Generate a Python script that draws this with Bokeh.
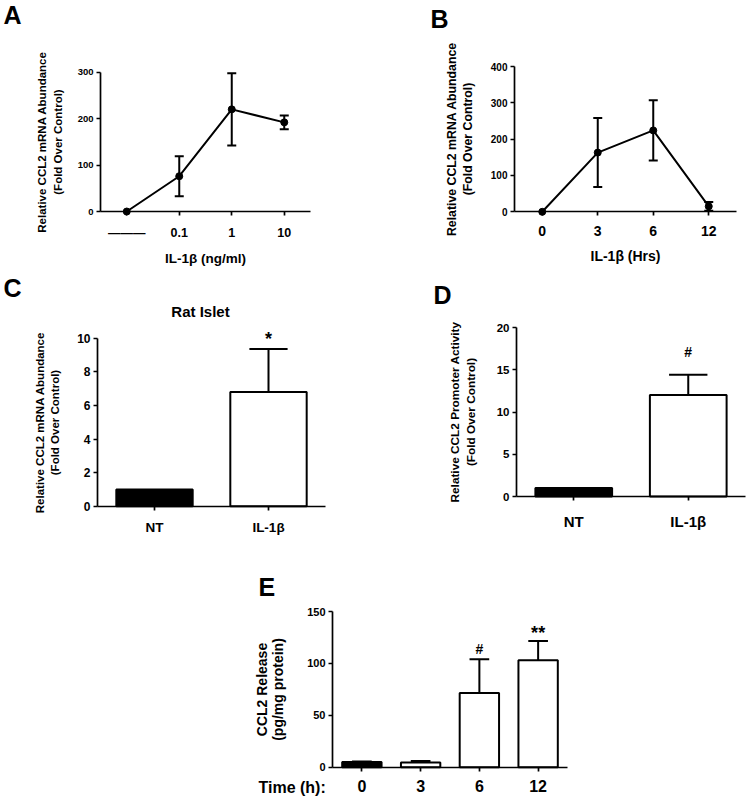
from bokeh.plotting import figure
from bokeh.layouts import column, row, Spacer
from bokeh.models import Range1d, FixedTicker, Label, Whisker, TeeHead, ColumnDataSource
from bokeh.embed import file_html
from bokeh.resources import INLINE

FONT = "Liberation Sans"

# ---------------- data ----------------
# Panel A: dose response
a_labels = ["———", "0.1", "1", "10"]
a_mean = [0, 76, 220, 192]
a_err = [0, 43, 78, 15]

# Panel B: time course
b_labels = ["0", "3", "6", "12"]
b_mean = [0, 163, 224, 15]
b_err = [0, 95, 83, 12]

# Panel C: rat islet
c_labels = ["NT", "IL-1β"]
c_mean = [1.0, 6.8]
c_err = [0.0, 2.55]
c_sig = ["", "*"]

# Panel D: promoter activity
d_labels = ["NT", "IL-1β"]
d_mean = [1.0, 12.0]
d_err = [0.0, 2.4]
d_sig = ["", "#"]

# Panel E: CCL2 release
e_labels = ["0", "3", "6", "12"]
e_mean = [5.0, 4.5, 71.5, 103.0]
e_err = [0.5, 1.5, 32.5, 18.5]
e_sig = ["", "", "#", "**"]


def base_fig(w, h, box, n, y_end, yticks, xlabels, xtick_size, ytick_size,
             ylab, ylab_size, ylab_lh, ylab_standoff,
             xlab=None, xlab_size="13px", xlab_standoff=8, x_standoff=10):
    L, R, T, B = box  # axis box inside the canvas, in pixels
    pxx = (w - L - R) / n
    pxy = (h - T - B) / y_end
    x0 = -0.5 - L / pxx
    x1 = n - 0.5 + R / pxx
    y0 = -B / pxy
    y1 = y_end + T / pxy
    p = figure(width=w, height=h, output_backend="svg", toolbar_location=None,
               x_range=Range1d(x0, x1), y_range=Range1d(y0, y1), min_border=0)
    p.outline_line_color = None
    p.grid.visible = False
    p.background_fill_color = "white"
    p.border_fill_color = "white"
    for ax in (p.xaxis[0], p.yaxis[0]):
        ax.axis_line_width = 1.7
        ax.axis_line_color = "black"
        ax.major_tick_line_width = 1.7
        ax.major_tick_line_color = "black"
        ax.major_tick_in = 0
        ax.major_tick_out = 4
        ax.minor_tick_line_color = None
        ax.major_label_text_font = FONT
        ax.major_label_text_font_style = "bold"
        ax.major_label_text_color = "black"
        ax.axis_label_text_font = FONT
        ax.axis_label_text_font_style = "bold"
        ax.axis_label_text_color = "black"
    xa = p.xaxis[0]
    xa.fixed_location = 0
    xa.bounds = (-0.5, n - 0.5)
    xa.ticker = FixedTicker(ticks=list(range(n)))
    xa.major_label_overrides = {i: lab for i, lab in enumerate(xlabels)}
    xa.major_label_text_font_size = xtick_size
    xa.major_label_standoff = x_standoff
    if xlab:
        xa.axis_label = xlab
        xa.axis_label_text_font_size = xlab_size
        xa.axis_label_standoff = xlab_standoff
    ya = p.yaxis[0]
    ya.fixed_location = -0.5
    ya.bounds = (0, y_end)
    ya.ticker = FixedTicker(ticks=yticks)
    ya.major_label_text_font_size = ytick_size
    ya.major_label_standoff = 3
    ya.axis_label = ylab
    ya.axis_label_text_font_size = ylab_size
    ya.axis_label_text_line_height = ylab_lh
    ya.axis_label_standoff = ylab_standoff
    return p


def screen_text(p, txt, cx, cy, size, align="left", baseline="alphabetic"):
    # cx, cy: canvas pixels measured from the top-left corner
    p.add_layout(Label(x=cx, y=p.height - cy, x_units="screen", y_units="screen", text=txt,
                       text_font=FONT, text_font_style="bold", text_font_size=size,
                       text_baseline=baseline, text_align=align, text_color="black"))


def line_panel(p, mean, err):
    xs = list(range(len(mean)))
    p.line(xs, mean, line_color="black", line_width=2)
    bx = [x for x, e in zip(xs, err) if e > 0]
    up = [m + e for m, e in zip(mean, err) if e > 0]
    lo = [m - e for m, e in zip(mean, err) if e > 0]
    src = ColumnDataSource(dict(base=bx, upper=up, lower=lo))
    p.add_layout(Whisker(source=src, base="base", upper="upper", lower="lower",
                         dimension="height", line_color="black", line_width=2,
                         upper_head=TeeHead(size=9, line_width=2, line_color="black"),
                         lower_head=TeeHead(size=9, line_width=2, line_color="black")))
    p.scatter(xs, mean, size=7, marker="circle", fill_color="black", line_color="black")


def bar_panel(p, mean, err, sig, fills, sig_style, bar_w=0.67):
    xs = list(range(len(mean)))
    tops = [m + e for m, e in zip(mean, err)]
    p.vbar(x=xs, top=mean, bottom=0, width=bar_w, fill_color=fills,
           line_color="black", line_width=2)
    ex = [x for x, e in zip(xs, err) if e > 0]
    ey0 = [m for m, e in zip(mean, err) if e > 0]
    ey1 = [t for t, e in zip(tops, err) if e > 0]
    p.segment(x0=ex, y0=ey0, x1=ex, y1=ey1, line_color="black", line_width=2)
    cw = bar_w / 4
    p.segment(x0=[x - cw for x in ex], y0=ey1, x1=[x + cw for x in ex], y1=ey1,
              line_color="black", line_width=2)
    for x, t, s in zip(xs, tops, sig):
        if s:
            size, off = sig_style[s]
            p.add_layout(Label(x=x, y=t, text=s, y_offset=off, text_align="center",
                               text_baseline="alphabetic", text_font=FONT,
                               text_font_style="bold", text_font_size=size,
                               text_color="black"))


YLAB1 = "Relative CCL2 mRNA Abundance\n(Fold Over Control)"

# ---- A ----  canvas 378 x 270
pA = base_fig(378, 270, (100, 68, 71.7, 59), 4, 300, [0, 100, 200, 300],
              a_labels, "12.5px", "9.5px", YLAB1, "11.5px", 1.3, 11,
              xlab="IL-1β (ng/ml)", xlab_size="13.5px", xlab_standoff=8, x_standoff=10)
line_panel(pA, a_mean, a_err)
screen_text(pA, "A", 3, 14, "25px")

# ---- B ----  canvas 369 x 270
pB = base_fig(369, 270, (136, 11, 66, 58.7), 4, 400, [0, 100, 200, 300, 400],
              b_labels, "14px", "10px", YLAB1, "12.3px", 1.15, 13,
              xlab="IL-1β (Hrs)", xlab_size="14px", xlab_standoff=9, x_standoff=10)
line_panel(pB, b_mean, b_err)
screen_text(pB, "B", 52, 18, "25px")

# ---- C ----  canvas 378 x 270
pC = base_fig(378, 270, (97, 53, 67.7, 34.3), 2, 10, [0, 2, 4, 6, 8, 10],
              c_labels, "13.5px", "12px", YLAB1, "11.5px", 1.3, 13, x_standoff=10)
bar_panel(pC, c_mean, c_err, c_sig, ["black", "white"], {"*": ("18px", 10)})
screen_text(pC, "C", 3, 17, "25px")
screen_text(pC, "Rat Islet", 200, 41, "15px", align="center")

# ---- D ----  canvas 369 x 270
pD = base_fig(369, 270, (138, 2, 57, 44), 2, 20, [0, 5, 10, 15, 20],
              d_labels, "15px", "11.5px",
              "Relative CCL2 Promoter Activity\n(Fold Over Control)", "11.8px", 1.12, 16,
              x_standoff=12)
bar_panel(pD, d_mean, d_err, d_sig, ["black", "white"], {"#": ("14px", 23)})
screen_text(pD, "D", 55, 24, "25px")

# ---- E ----  canvas 400 x 268
pE = base_fig(400, 268, (132, 33, 71, 41.3), 4, 150, [0, 50, 100, 150],
              e_labels, "16px", "11px", "CCL2 Release\n(pg/mg protein)", "14px", 1.02, 18,
              x_standoff=9)
bar_panel(pE, e_mean, e_err, e_sig, ["black", "white", "white", "white"],
          {"#": ("14px", 10), "**": ("18px", 8)})
screen_text(pE, "E", 58, 46, "25px")
screen_text(pE, "Time (h):", 58, 247, "16px")

layout = column(row(pA, pB), row(pC, pD), row(Spacer(width=200, height=268), pE))

open("out.html", "w").write(file_html(layout, INLINE))
